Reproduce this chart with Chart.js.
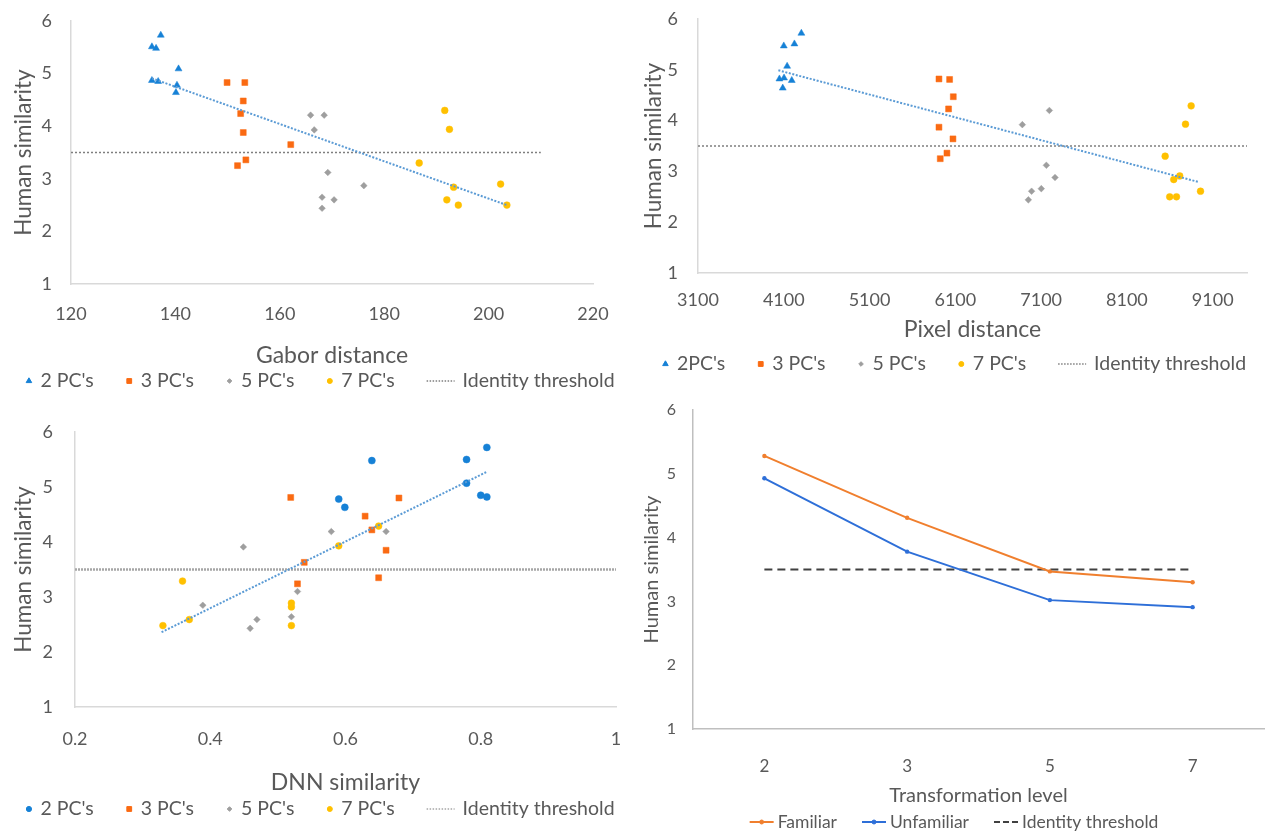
<!DOCTYPE html>
<html>
<head>
<meta charset="utf-8">
<script src="https://cdn.jsdelivr.net/npm/chart.js@4.4.1/dist/chart.umd.min.js"></script>
<style>
  html, body { margin: 0; padding: 0; background: #ffffff; }
  body { width: 1268px; height: 832px; position: relative; overflow: hidden; }
  canvas { position: absolute; }
</style>
</head>
<body>
<canvas id="c1" width="640" height="395" style="left:0px;top:0px"></canvas>
<canvas id="c2" width="628" height="390" style="left:640px;top:0px"></canvas>
<canvas id="c3" width="640" height="432" style="left:0px;top:400px"></canvas>
<canvas id="c4" width="628" height="442" style="left:640px;top:390px"></canvas>
<script>
// ---------------- DATA ----------------
// Panel A: Gabor distance
const gaborTicks = [120, 140, 160, 180, 200, 220];
const gabor2X = [135.5, 136.3, 137.2, 140.6, 135.5, 136.7, 140.3, 140.1];
const gabor2Y = [5.51, 5.48, 5.73, 5.09, 4.87, 4.85, 4.78, 4.64];
const gabor3X = [149.9, 153.3, 153.0, 152.5, 153.0, 162.1, 151.9, 153.5];
const gabor3Y = [4.83, 4.83, 4.48, 4.24, 3.88, 3.65, 3.25, 3.36];
const gabor5X = [165.9, 168.5, 166.6, 169.2, 176.1, 168.1, 170.4, 168.1];
const gabor5Y = [4.21, 4.21, 3.93, 3.12, 2.87, 2.65, 2.60, 2.44];
const gabor7X = [191.6, 192.5, 186.7, 193.3, 202.3, 192.0, 194.2, 203.5];
const gabor7Y = [4.30, 3.94, 3.30, 2.84, 2.90, 2.60, 2.50, 2.50];
const gaborTrendX = [135.5, 203.5];
const gaborTrendY = [4.91, 2.50];
const gaborThreshX = [120, 210];
const gaborThreshY = [3.5, 3.5];

// Panel B: Pixel distance
const pixelTicks = [3100, 4100, 5100, 6100, 7100, 8100, 9100];
const pixel2X = [4049, 4103, 4088, 4193, 4139, 4100, 4224, 4305];
const pixel2Y = [4.82, 4.84, 4.64, 4.79, 5.07, 5.47, 5.51, 5.72];
const pixel3X = [5909, 6033, 6076, 6021, 5909, 6072, 5924, 6002];
const pixel3Y = [4.82, 4.81, 4.47, 4.23, 3.87, 3.64, 3.25, 3.36];
const pixel5X = [6881, 7196, 7161, 7262, 7102, 6989, 6951];
const pixel5Y = [3.92, 4.20, 3.12, 2.88, 2.66, 2.61, 2.44];
const pixel7X = [8849, 8783, 8546, 8716, 8646, 8958, 8599, 8678];
const pixel7Y = [4.29, 3.93, 3.30, 2.91, 2.84, 2.61, 2.50, 2.50];
const pixelTrendX = [4037, 8938];
const pixelTrendY = [4.99, 2.79];
const pixelThreshX = [3100, 9500];
const pixelThreshY = [3.5, 3.5];

// Panel C: DNN similarity
const dnnTicks = [0.2, 0.4, 0.6, 0.8, 1];
const dnn2X = [0.639, 0.779, 0.809, 0.779, 0.800, 0.809, 0.590, 0.599];
const dnn2Y = [5.48, 5.50, 5.72, 5.07, 4.85, 4.82, 4.78, 4.63];
const dnn3X = [0.519, 0.539, 0.529, 0.679, 0.629, 0.639, 0.660, 0.649];
const dnn3Y = [4.81, 3.63, 3.24, 4.80, 4.47, 4.22, 3.85, 3.35];
const dnn5X = [0.449, 0.389, 0.469, 0.459, 0.520, 0.529, 0.579, 0.660];
const dnn5Y = [3.91, 2.85, 2.59, 2.43, 2.64, 3.10, 4.19, 4.19];
const dnn7X = [0.330, 0.359, 0.369, 0.520, 0.520, 0.520, 0.590, 0.649];
const dnn7Y = [2.48, 3.29, 2.59, 2.89, 2.82, 2.48, 3.93, 4.29];
const dnnTrendX = [0.328, 0.808];
const dnnTrendY = [2.36, 5.27];
const dnnThreshX = [0.2, 1.0];
const dnnThreshY = [3.5, 3.5];

// Panel D: Transformation level
const levels = ['2', '3', '5', '7'];
const familiar = [5.28, 4.31, 3.47, 3.30];
const unfamiliar = [4.93, 3.78, 3.02, 2.91];
const identity = [3.5, 3.5, 3.5, 3.5];

const yTicks = [1, 2, 3, 4, 5, 6];

// ---------------- STYLE ----------------
const FONT = 'Lato, "Open Sans", sans-serif';
const TEXT = '#595959';
const AXIS = '#D9D9D9';
const C_BLUE = '#1681D6';
const C_ORANGE = '#FA6A12';
const C_GRAY = '#9E9E9E';
const C_YELLOW = '#FFC000';
const C_TREND = '#5B9BD5';

Chart.defaults.font.family = FONT;
Chart.defaults.color = TEXT;

function pts(xs, ys) { return xs.map((x, i) => ({ x: x, y: ys[i] })); }
const plainTick = (v) => String(v);
function fixY(w) { return (ax) => { ax.width = w; ax.paddingTop = 0; ax.paddingBottom = 0; }; }
function fixX(h) { return (ax) => { ax.height = h; ax.paddingLeft = 0; ax.paddingRight = 0; }; }

// custom legend drawn on the chart canvas
const customLegend = {
  id: 'customLegend',
  afterDraw(chart, args, opts) {
    const items = opts.items;
    if (!items) return;
    const ctx = chart.ctx;
    ctx.save();
    ctx.font = opts.fontSize + 'px ' + FONT;
    const widths = items.map(it => it.w + opts.textGap + ctx.measureText(it.text).width);
    const total = widths.reduce((a, b) => a + b, 0) + opts.spacing * (items.length - 1);
    let x = (chart.width - total) / 2 + (opts.shiftX || 0);
    const y = opts.y;
    items.forEach((it, i) => {
      const cx = x + it.w / 2;
      if (it.line) {
        ctx.save();
        ctx.strokeStyle = it.color;
        ctx.lineWidth = it.lineWidth;
        ctx.setLineDash(it.dash || []);
        ctx.beginPath();
        ctx.moveTo(x, y);
        ctx.lineTo(x + it.w, y);
        ctx.stroke();
        ctx.restore();
      }
      if (it.pointStyle) {
        ctx.save();
        ctx.fillStyle = it.color;
        ctx.strokeStyle = it.color;
        ctx.setLineDash([]);
        Chart.helpers.drawPoint(ctx, { pointStyle: it.pointStyle, radius: it.radius, borderWidth: 0.5 }, cx, y);
        ctx.restore();
      }
      ctx.fillStyle = TEXT;
      ctx.textBaseline = 'middle';
      ctx.textAlign = 'left';
      ctx.fillText(it.text, x + it.w + opts.textGap, y);
      x += widths[i] + opts.spacing;
    });
    ctx.restore();
  }
};
Chart.register(customLegend);

function scatterPanel(id, L) {
  const ds = [
    { label: L.names[0], data: pts(L.s2x, L.s2y), pointStyle: L.style2, pointBackgroundColor: C_BLUE, pointBorderColor: C_BLUE, pointBorderWidth: 0.5, pointRadius: L.r2, order: 3 },
    { label: L.names[1], data: pts(L.s3x, L.s3y), pointStyle: 'rect', pointBackgroundColor: C_ORANGE, pointBorderColor: C_ORANGE, pointBorderWidth: 0.5, pointRadius: 4.2, order: 3 },
    { label: L.names[2], data: pts(L.s5x, L.s5y), pointStyle: 'rectRot', pointBackgroundColor: C_GRAY, pointBorderColor: C_GRAY, pointBorderWidth: 0.5, pointRadius: 3.3, order: 3 },
    { label: L.names[3], data: pts(L.s7x, L.s7y), pointStyle: 'circle', pointBackgroundColor: C_YELLOW, pointBorderColor: C_YELLOW, pointBorderWidth: 0.5, pointRadius: 3.4, order: 3 },
    { label: 'Trend', data: pts(L.tx, L.ty), showLine: true, pointRadius: 0, borderColor: C_TREND, borderWidth: 2, borderDash: [2, 1.6], order: 1 },
    { label: 'Identity threshold', data: pts(L.hx, L.hy), showLine: true, pointRadius: 0, borderColor: L.threshColor, borderWidth: L.threshWidth, borderDash: L.threshDash, order: 2 }
  ];
  return new Chart(document.getElementById(id), {
    type: 'scatter',
    data: { datasets: ds },
    options: {
      responsive: false,
      animation: false,
      devicePixelRatio: 1,
      layout: { padding: L.pad },
      plugins: {
        legend: { display: false },
        tooltip: { enabled: false },
        customLegend: {
          y: L.legendY, fontSize: 19.5, textGap: 8, spacing: 32, shiftX: L.legendShift || 0,
          items: [
            { text: L.names[0], pointStyle: L.style2, radius: L.style2 === 'triangle' ? 3.2 : 2.6, color: C_BLUE, w: 7 },
            { text: L.names[1], pointStyle: 'rect', radius: 3.4, color: C_ORANGE, w: 7 },
            { text: L.names[2], pointStyle: 'rectRot', radius: 2.3, color: C_GRAY, w: 7 },
            { text: L.names[3], pointStyle: 'circle', radius: 2.5, color: C_YELLOW, w: 7 },
            { text: 'Identity threshold', line: true, color: L.threshColor, lineWidth: 1.3, dash: [1.5, 1.5], w: 28 }
          ]
        }
      },
      scales: {
        x: {
          type: 'linear', min: L.xmin, max: L.xmax,
          afterBuildTicks: (ax) => { ax.ticks = L.xticks.map(v => ({ value: v })); },
          afterFit: fixX(L.xHeight),
          grid: { display: false, drawTicks: false },
          border: { display: true, color: AXIS, width: 1.5 },
          ticks: { font: { size: 18 }, padding: L.xTickPad, color: TEXT, maxRotation: 0, autoSkip: false, callback: plainTick },
          title: { display: true, text: L.xTitle, font: { size: 23 }, color: TEXT, padding: { top: 0, bottom: 0 } }
        },
        y: {
          type: 'linear', min: 1, max: 6,
          afterBuildTicks: (ax) => { ax.ticks = yTicks.map(v => ({ value: v })); },
          afterFit: fixY(L.yWidth),
          grid: { display: false, drawTicks: false },
          border: { display: true, color: AXIS, width: 1.5 },
          ticks: { font: { size: 18 }, padding: L.yTickPad, color: TEXT, callback: plainTick },
          title: { display: true, text: 'Human similarity', font: { size: 22.5 }, color: TEXT, padding: { top: L.yTitlePad, bottom: 0 } }
        }
      }
    }
  });
}

scatterPanel('c1', {
  names: ["2 PC's", "3 PC's", "5 PC's", "7 PC's"], style2: 'triangle', r2: 4,
  s2x: gabor2X, s2y: gabor2Y, s3x: gabor3X, s3y: gabor3Y, s5x: gabor5X, s5y: gabor5Y, s7x: gabor7X, s7y: gabor7Y,
  tx: gaborTrendX, ty: gaborTrendY, hx: gaborThreshX, hy: gaborThreshY,
  threshColor: '#7F7F7F', threshWidth: 1.5, threshDash: [2, 2],
  xmin: 120, xmax: 220, xticks: gaborTicks, xTitle: 'Gabor distance',
  pad: { top: 21, right: 47, bottom: 26, left: 0 }, yWidth: 71, xHeight: 85,
  xTickPad: 19, yTickPad: 19, yTitlePad: 10, legendY: 381
});

scatterPanel('c2', {
  names: ["2PC's", "3 PC's", "5 PC's", "7 PC's"], style2: 'triangle', r2: 4,
  s2x: pixel2X, s2y: pixel2Y, s3x: pixel3X, s3y: pixel3Y, s5x: pixel5X, s5y: pixel5Y, s7x: pixel7X, s7y: pixel7Y,
  tx: pixelTrendX, ty: pixelTrendY, hx: pixelThreshX, hy: pixelThreshY,
  threshColor: '#7F7F7F', threshWidth: 1.5, threshDash: [2, 2],
  xmin: 3100, xmax: 9500, xticks: pixelTicks, xTitle: 'Pixel distance',
  pad: { top: 19, right: 21, bottom: 47, left: 0 }, yWidth: 58, xHeight: 70,
  xTickPad: 16, yTickPad: 20, yTitlePad: 0, legendY: 364
});

scatterPanel('c3', {
  names: ["2 PC's", "3 PC's", "5 PC's", "7 PC's"], style2: 'circle', r2: 3.5,
  s2x: dnn2X, s2y: dnn2Y, s3x: dnn3X, s3y: dnn3Y, s5x: dnn5X, s5y: dnn5Y, s7x: dnn7X, s7y: dnn7Y,
  tx: dnnTrendX, ty: dnnTrendY, hx: dnnThreshX, hy: dnnThreshY,
  threshColor: '#A6A6A6', threshWidth: 2.5, threshDash: [2, 1],
  xmin: 0.2, xmax: 1.0, xticks: dnnTicks, xTitle: 'DNN similarity',
  pad: { top: 32, right: 24, bottom: 36, left: 0 }, yWidth: 75, xHeight: 89,
  xTickPad: 21, yTickPad: 22, yTitlePad: 10, legendY: 409
});

// Panel D: line chart
new Chart(document.getElementById('c4'), {
  type: 'line',
  data: {
    labels: levels,
    datasets: [
      { label: 'Familiar', data: familiar, borderColor: '#F07F2E', backgroundColor: '#F07F2E', borderWidth: 2, pointRadius: 2.2, pointBorderWidth: 0, tension: 0, order: 1 },
      { label: 'Unfamiliar', data: unfamiliar, borderColor: '#2E6FD8', backgroundColor: '#2E6FD8', borderWidth: 2, pointRadius: 2.2, pointBorderWidth: 0, tension: 0, order: 2 },
      { label: 'Identity threshold', data: identity, borderColor: '#404040', borderWidth: 1.8, borderDash: [8, 5], pointRadius: 0, tension: 0, order: 3 }
    ]
  },
  options: {
    responsive: false,
    animation: false,
    devicePixelRatio: 1,
    layout: { padding: { top: 20, right: 0, bottom: 24, left: 0 } },
    plugins: {
      legend: { display: false },
      tooltip: { enabled: false },
      customLegend: {
        y: 432, fontSize: 17.5, textGap: 4, spacing: 25, shiftX: 0,
        items: [
          { text: 'Familiar', line: true, color: '#F07F2E', lineWidth: 2, w: 24, pointStyle: 'circle', radius: 2 },
          { text: 'Unfamiliar', line: true, color: '#2E6FD8', lineWidth: 2, w: 24, pointStyle: 'circle', radius: 2 },
          { text: 'Identity threshold', line: true, color: '#404040', lineWidth: 1.8, dash: [6, 3], w: 24 }
        ]
      }
    },
    scales: {
      x: {
        type: 'category', offset: true,
        afterFit: fixX(79),
        grid: { display: false, drawTicks: false },
        border: { display: true, color: '#BFBFBF', width: 1.5 },
        ticks: { font: { size: 17 }, padding: 27, color: TEXT },
        title: { display: true, text: 'Transformation level', font: { size: 20 }, color: TEXT, padding: { top: 0, bottom: 0 } }
      },
      y: {
        type: 'linear', min: 1, max: 6,
        afterBuildTicks: (ax) => { ax.ticks = yTicks.map(v => ({ value: v })); },
        afterFit: fixY(53),
        grid: { display: false, drawTicks: false },
        border: { display: true, color: '#BFBFBF', width: 1.5 },
        ticks: { font: { size: 16 }, padding: 17, color: TEXT, callback: plainTick },
        title: { display: true, text: 'Human similarity', font: { size: 20 }, color: TEXT, padding: { top: 0, bottom: 0 } }
      }
    }
  }
});
</script>
</body>
</html>
